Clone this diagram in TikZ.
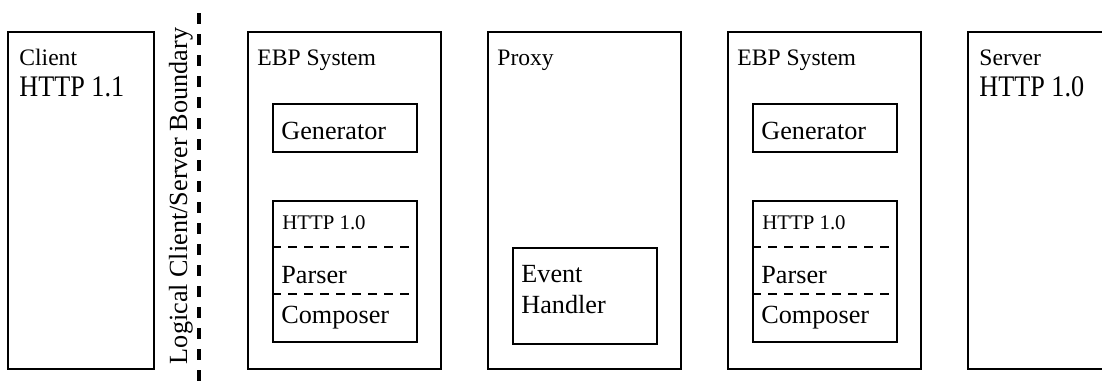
\documentclass[tikz,border=0pt]{standalone}
\usepackage{fontspec}
\usepackage{graphicx}
\setmainfont{Liberation Serif}
\usetikzlibrary{positioning}
\tikzset{
  outerbox/.style={rectangle, draw, line width=1pt, anchor=north west,
    inner sep=0pt, minimum height=168.5pt},
  innerbox/.style={rectangle, draw, line width=1pt, anchor=north west,
    inner sep=0pt, minimum width=72pt},
  lbl/.style={anchor=base west, inner sep=0pt, font=\fontsize{11.8pt}{14pt}\selectfont},
  txt/.style={anchor=base west, inner sep=0pt, font=\fontsize{13.1pt}{15pt}\selectfont},
  smalltxt/.style={anchor=base west, inner sep=0pt, font=\fontsize{10.4pt}{12pt}\selectfont},
  sepline/.style={line width=0.8pt, dash pattern=on 4.5pt off 3.5pt},
  boundary/.style={line width=1.9pt, dash pattern=on 5.5pt off 5pt}
}
\newcommand{\tallver}[1]{\scalebox{1}[1.14]{#1}}

\begin{document}
\begin{tikzpicture}[x=0.5pt, y=-0.5pt]
  \useasboundingbox (0,0) rectangle (1102,386);

  % Client side
  \node[outerbox, minimum width=73pt] (client) at (7,31) {};
  \node[lbl] (clientlbl) at (19,65) {Client};
  \node[txt] (clientver) at (19,96) {\tallver{HTTP 1.1}};

  % Logical boundary
  \coordinate (bndtop) at (199,13);
  \coordinate (bndbot) at (199,386);
  \draw[boundary] (bndtop) -- (bndbot);
  \node[anchor=base, rotate=90, inner sep=0pt, font=\fontsize{13.1pt}{15pt}\selectfont]
    (bndlbl) at (187,196) {Logical Client/Server Boundary};

  % EBP system (client side)
  \node[outerbox, minimum width=96.5pt] (ebpleft) at (247,31) {};
  \node[lbl] (ebpleftlbl) at (257,65) {EBP System};
  \node[innerbox, minimum height=24pt] (genleft) at (272,103) {};
  \node[txt] (genleftlbl) at (281,139) {Generator};
  \node[innerbox, minimum height=70.5pt] (httpleft) at (272,200) {};
  \draw[sepline] ([yshift=-23.5pt]httpleft.north west) -- ([yshift=-23.5pt]httpleft.north east);
  \draw[sepline] ([yshift=-47pt]httpleft.north west) -- ([yshift=-47pt]httpleft.north east);
  \node[smalltxt] (httpleftlbl) at (282,229) {HTTP 1.0};
  \node[txt] (parseleft) at (281,283) {Parser};
  \node[txt] (composeleft) at (281,323) {Composer};

  % Proxy
  \node[outerbox, minimum width=96.5pt] (proxy) at (487,31) {};
  \node[lbl] (proxylbl) at (497,65) {Proxy};
  \node[innerbox, minimum height=48pt] (evhandler) at (512,247) {};
  \node[txt] (evlbl) at (521,282) {Event};
  \node[txt] (handlerlbl) at (521,313) {Handler};

  % EBP system (server side)
  \node[outerbox, minimum width=96.5pt] (ebpright) at (727,31) {};
  \node[lbl] (ebprightlbl) at (737,65) {EBP System};
  \node[innerbox, minimum height=24pt] (genright) at (752,103) {};
  \node[txt] (genrightlbl) at (761,139) {Generator};
  \node[innerbox, minimum height=70.5pt] (httpright) at (752,200) {};
  \draw[sepline] ([yshift=-23.5pt]httpright.north west) -- ([yshift=-23.5pt]httpright.north east);
  \draw[sepline] ([yshift=-47pt]httpright.north west) -- ([yshift=-47pt]httpright.north east);
  \node[smalltxt] (httprightlbl) at (762,229) {HTTP 1.0};
  \node[txt] (parseright) at (761,283) {Parser};
  \node[txt] (composeright) at (761,323) {Composer};

  % Server side
  \node[outerbox, minimum width=73pt] (server) at (967,31) {};
  \node[lbl] (serverlbl) at (979,65) {Server};
  \node[txt] (serverver) at (979,96) {\tallver{HTTP 1.0}};
\end{tikzpicture}
\end{document}
